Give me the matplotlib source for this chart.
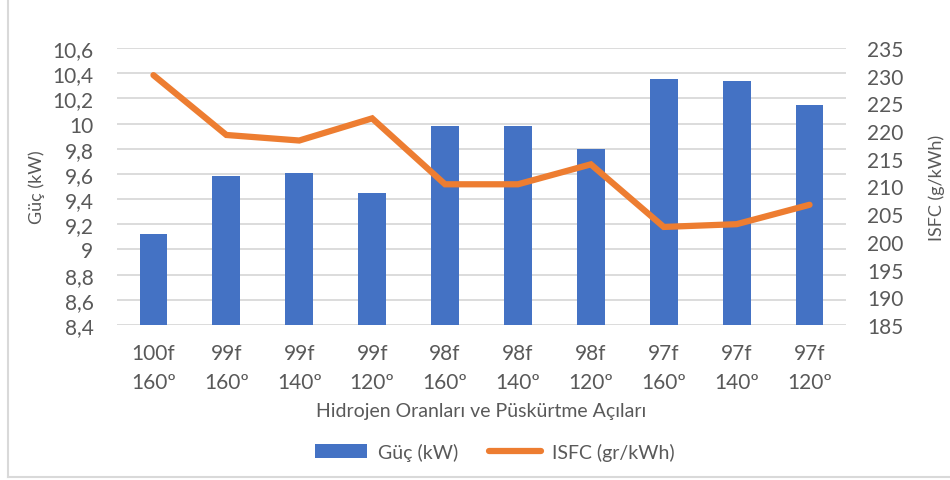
import numpy as np
import matplotlib.pyplot as plt
from matplotlib.lines import Line2D

plt.rcParams['font.family'] = ['Lato', 'DejaVu Sans']

oran = ['100f', '99f', '99f', '99f', '98f', '98f', '98f', '97f', '97f', '97f']
aci = ['160º', '160º', '140º', '120º', '160º', '140º', '120º', '160º', '140º', '120º']
guc = [9.12, 9.58, 9.61, 9.45, 9.98, 9.98, 9.80, 10.35, 10.34, 10.15]
isfc = [230.1, 219.3, 218.3, 222.3, 210.4, 210.4, 214.0, 202.7, 203.2, 206.7]

left_ticks = [8.4, 8.6, 8.8, 9.0, 9.2, 9.4, 9.6, 9.8, 10.0, 10.2, 10.4, 10.6]
right_ticks = [185, 190, 195, 200, 205, 210, 215, 220, 225, 230, 235]

txt = '#595959'
W, H = 950, 481
fig = plt.figure(figsize=(W / 100, H / 100), dpi=100)
ax = fig.add_axes([117 / W, 1 - 326 / H, 729 / W, 277 / H])
ax2 = ax.twinx()

x = np.arange(len(guc))
bars = ax.bar(x, guc, width=0.38, color='#4472C4', zorder=2, label='Güç (kW)')
ax.set_xlim(-0.5, len(guc) - 0.5)
ax.set_ylim(8.4, 10.6)
ax.set_yticks(left_ticks)
ax.set_yticklabels([('%g' % v).replace('.', ',') for v in left_ticks])
ax.set_xticks(x)
ax.set_xticklabels([o + '\n' + a for o, a in zip(oran, aci)], linespacing=1.55)
ax.grid(axis='y', color='#D9D9D9', lw=1.3, zorder=0)
ax.set_axisbelow(True)

line, = ax2.plot(x, isfc, color='#ED7D31', lw=4.5, solid_capstyle='round',
                 solid_joinstyle='miter', label='ISFC (gr/kWh)')
ax2.set_ylim(185, 235)
ax2.set_yticks(right_ticks)

for a in (ax, ax2):
    for s in a.spines.values():
        s.set_visible(False)
    a.tick_params(length=0, colors=txt, labelsize=15)
ax.tick_params(axis='x', pad=13)
ax.tick_params(axis='y', pad=17)
ax2.tick_params(axis='y', pad=15)

ax.set_ylabel('Güç (kW)', color=txt, fontsize=13, labelpad=5)
ax2.set_ylabel('ISFC (g/kWh)', color=txt, fontsize=13, labelpad=18)
ax.set_xlabel('Hidrojen Oranları ve Püskürtme Açıları', color=txt, fontsize=14, labelpad=7)

fig.legend([bars, line], ['Güç (kW)', 'ISFC (gr/kWh)'], loc='center',
           bbox_to_anchor=(495 / W, 1 - 453 / H), ncol=2, frameon=False,
           fontsize=14, labelcolor=txt, handlelength=2.67, handleheight=0.72,
           columnspacing=1.6, handletextpad=0.55)

# chart border
fig.add_artist(Line2D([8 / W, 8 / W], [3 / H, 1], color='#D9D9D9', lw=1.5))
fig.add_artist(Line2D([8 / W, 1], [3 / H, 3 / H], color='#D9D9D9', lw=1.5))

fig.savefig('out.png', dpi=100)
